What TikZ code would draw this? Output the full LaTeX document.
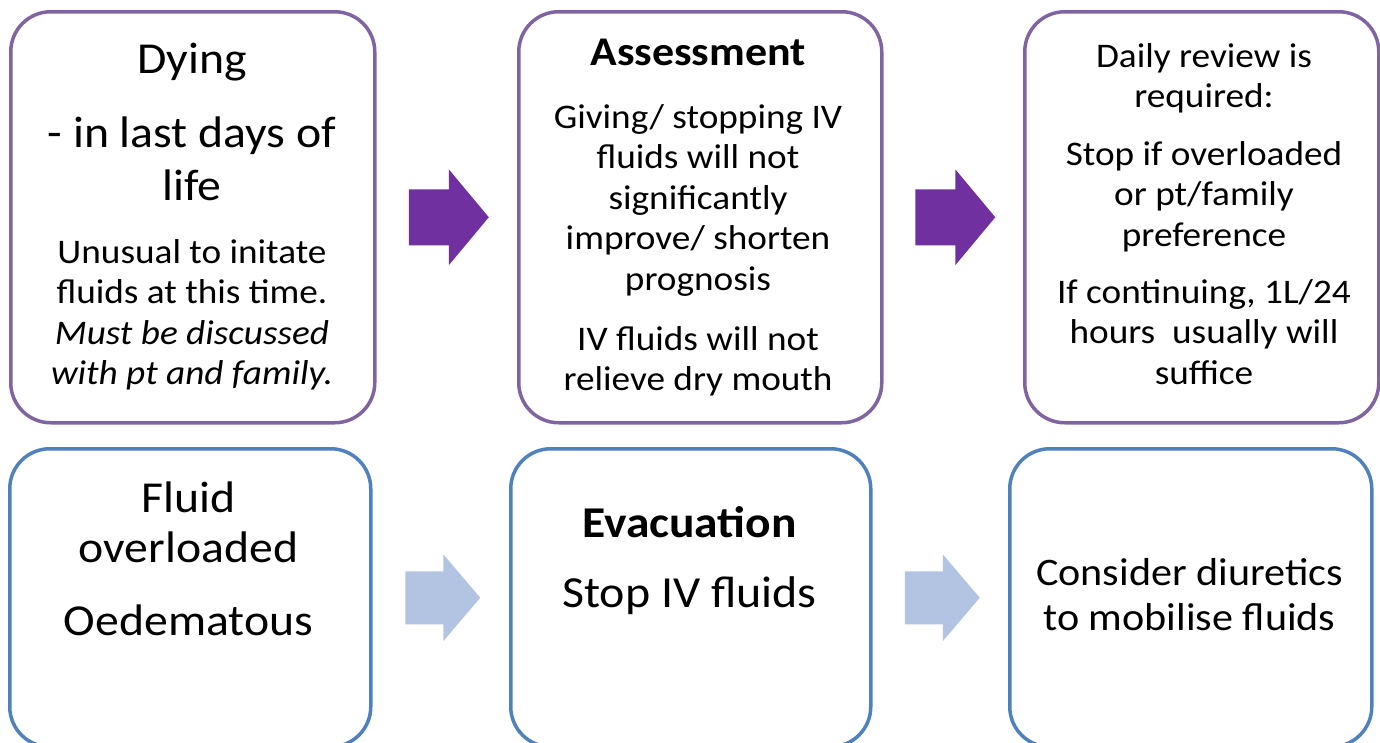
\documentclass[tikz,border=0pt]{standalone}
\usepackage{fontspec}
\setmainfont{Carlito}[FakeStretch=1.08]
\usetikzlibrary{calc}
\definecolor{purpleline}{RGB}{128,100,162}
\definecolor{purplearrow}{RGB}{112,48,160}
\definecolor{blueline}{RGB}{79,129,189}
\definecolor{lightarrow}{RGB}{179,196,226}
\tikzset{
  box/.style={draw, line width=3.5pt, rounded corners=40pt, fill=white, inner sep=0pt, anchor=north west},
  topbox/.style={box, draw=purpleline, minimum height=411pt},
  botbox/.style={box, draw=blueline, minimum height=298pt},
  txt/.style={anchor=base, inner sep=0pt},
  big/.style={txt, font=\fontsize{44.2}{52}\selectfont},
  body/.style={txt, font=\fontsize{34.5}{40}\selectfont},
  bodyit/.style={txt, font=\fontsize{34.5}{40}\selectfont\itshape},
  head/.style={txt, font=\fontsize{40.7}{48}\selectfont\bfseries},
  bighead/.style={txt, font=\fontsize{44}{50}\selectfont\bfseries},
  mid/.style={txt, font=\fontsize{44.4}{50}\selectfont},
  left4/.style={txt, font=\fontsize{44.2}{50}\selectfont},
  right6/.style={txt, font=\fontsize{39}{45}\selectfont},
  toparrow/.pic={\fill (-40,-28) -- (0,-28) -- (0,-48) -- (40,0) -- (0,48) -- (0,28) -- (-40,28) -- cycle;},
  botarrow/.pic={\fill (-37.5,-26.5) -- (0.5,-26.5) -- (0.5,-43.5) -- (37.5,0) -- (0.5,43.5) -- (0.5,26.5) -- (-37.5,26.5) -- cycle;}
}
\begin{document}
\begin{tikzpicture}[x=1pt, y=-1pt]
\useasboundingbox[fill=white] (0,0) rectangle (1380,742);
% top row boxes
\node[topbox, minimum width=364pt] (b1) at (9,10) {};
\node[topbox, minimum width=363pt] (b2) at (517,10) {};
\node[topbox, minimum width=354pt] (b3) at (1023,10) {};
% bottom row boxes
\node[botbox, minimum width=361pt] (b4) at (8,447) {};
\node[botbox, minimum width=360pt] (b5) at (509,447) {};
\node[botbox, minimum width=362pt] (b6) at (1008,447) {};
% arrows
\coordinate (a1) at ($(b1.east)!0.5!(b2.west)+(2,0)$);
\coordinate (a2) at ($(b2.east)!0.5!(b3.west)+(2,0)$);
\coordinate (a3) at ($(b4.east)!0.5!(b5.west)+(2,0)$);
\coordinate (a4) at ($(b5.east)!0.5!(b6.west)+(2,0)$);
\pic[purplearrow] at (a1) {toparrow};
\pic[purplearrow] at (a2) {toparrow};
\pic[lightarrow] at (a3) {botarrow};
\pic[lightarrow] at (a4) {botarrow};
% box 1 text
\node[big] (t1a) at (192,73) {Dying};
\node[big] (t1b) at (192,147) {- in last days of};
\node[big] (t1c) at (192,200) {life};
\node[body] (t1d) at (192,263) {Unusual to initate};
\node[body] (t1e) at (192,303.5) {fluids at this time.};
\node[bodyit] (t1f) at (192,344) {Must be discussed};
\node[bodyit] (t1g) at (192,384.5) {with pt and family.};
% box 2 text
\node[head] (t2a) at (698,65) {Assessment};
\node[body] (t2b) at (698,128) {Giving/ stopping IV};
\node[body] (t2c) at (698,168.5) {fluids will not};
\node[body] (t2d) at (698,209) {significantly};
\node[body] (t2e) at (698,249.5) {improve/ shorten};
\node[body] (t2f) at (698,290) {prognosis};
\node[body] (t2g) at (698,350) {IV fluids will not};
\node[body] (t2h) at (698,390.5) {relieve dry mouth};
% box 3 text
\node[body] (t3a) at (1204,67) {Daily review is};
\node[body] (t3b) at (1204,107.5) {required:};
\node[body] (t3c) at (1204,165) {Stop if overloaded};
\node[body] (t3d) at (1204,205.5) {or pt/family};
\node[body] (t3e) at (1204,246) {preference};
\node[body] (t3f) at (1204,303) {If continuing, 1L/24};
\node[body] (t3g) at (1204,343.5) {hours\ \ usually will};
\node[body] (t3h) at (1204,384) {suffice};
% box 4 text
\node[left4] (t4a) at (188.5,512) {Fluid};
\node[left4] (t4b) at (188.5,562) {overloaded};
\node[left4] (t4c) at (188.5,635) {Oedematous};
% box 5 text
\node[bighead] (t5a) at (689.5,537) {Evacuation};
\node[mid] (t5b) at (689.5,607) {Stop IV fluids};
% box 6 text
\node[right6] (t6a) at (1189.5,585) {Consider diuretics};
\node[right6] (t6b) at (1189.5,630) {to mobilise fluids};
\end{tikzpicture}
\end{document}
